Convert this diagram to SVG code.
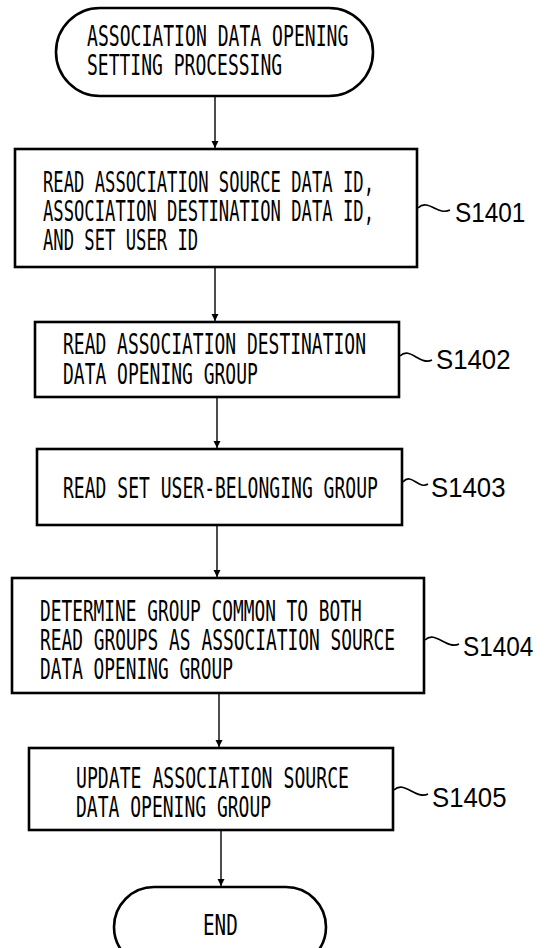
<svg xmlns="http://www.w3.org/2000/svg" width="547" height="948" viewBox="0 0 547 948">
<defs>
<marker id="arr" viewBox="0 0 10 10" refX="10" refY="5" markerWidth="7" markerHeight="8" orient="auto" markerUnits="userSpaceOnUse">
<path d="M0,0 L10,5 L0,10 Z" fill="#000"/>
</marker>
<style>
.box{fill:#fff;stroke:#000;stroke-width:2.6}
.t{font-family:"DejaVu Sans Mono","Liberation Mono",monospace;font-size:27.5px;fill:#000}
.lbl{font-family:"Liberation Sans",Arial,sans-serif;font-size:28px;fill:#000}
.c{fill:none;stroke:#000;stroke-width:1.4}
.tl{fill:none;stroke:#000;stroke-width:1.6}
</style>
</defs>
<rect width="547" height="948" fill="#fff"/>
<g id="connectors">
<line class="c" x1="215" y1="97" x2="215" y2="148" marker-end="url(#arr)"/>
<line class="c" x1="215" y1="268" x2="215" y2="321" marker-end="url(#arr)"/>
<line class="c" x1="217" y1="398" x2="217" y2="448" marker-end="url(#arr)"/>
<line class="c" x1="217" y1="526" x2="217" y2="577" marker-end="url(#arr)"/>
<line class="c" x1="219" y1="694" x2="219" y2="747" marker-end="url(#arr)"/>
<line class="c" x1="221" y1="831" x2="221" y2="886" marker-end="url(#arr)"/>
</g>
<g id="start">
<rect class="box" x="56" y="8" width="317" height="88" rx="44" ry="44"/>
<text class="t" transform="translate(87,46) scale(0.658,1)">ASSOCIATION DATA OPENING</text>
<text class="t" transform="translate(87,75) scale(0.655,1)">SETTING PROCESSING</text>
</g>
<g id="s1401">
<rect class="box" x="15" y="149" width="402" height="118"/>
<text class="t" transform="translate(43,192) scale(0.625,1)">READ ASSOCIATION SOURCE DATA ID,</text>
<text class="t" transform="translate(43,221) scale(0.625,1)">ASSOCIATION DESTINATION DATA ID,</text>
<text class="t" transform="translate(43,250) scale(0.625,1)">AND SET USER ID</text>
<path class="tl" d="M418,208 C428,198 438,216 450,210"/>
<text class="lbl" transform="translate(455,222) scale(0.87,1)">S1401</text>
</g>
<g id="s1402">
<rect class="box" x="35" y="322" width="364" height="75"/>
<text class="t" transform="translate(63,354) scale(0.654,1)">READ ASSOCIATION DESTINATION</text>
<text class="t" transform="translate(63,384) scale(0.654,1)">DATA OPENING GROUP</text>
<path class="tl" d="M400,356 C410,346 420,366 432,360"/>
<text class="lbl" transform="translate(436,369) scale(0.92,1)">S1402</text>
</g>
<g id="s1403">
<rect class="box" x="37" y="449" width="365" height="76"/>
<text class="t" transform="translate(63,498) scale(0.656,1)">READ SET USER-BELONGING GROUP</text>
<path class="tl" d="M403,482 C411,472 419,490 428,484"/>
<text class="lbl" transform="translate(431,497) scale(0.92,1)">S1403</text>
</g>
<g id="s1404">
<rect class="box" x="12" y="578" width="412" height="115"/>
<text class="t" transform="translate(40,621) scale(0.648,1)">DETERMINE GROUP COMMON TO BOTH</text>
<text class="t" transform="translate(40,650) scale(0.65,1)">READ GROUPS AS ASSOCIATION SOURCE</text>
<text class="t" transform="translate(40,679) scale(0.648,1)">DATA OPENING GROUP</text>
<path class="tl" d="M425,640 C435,630 447,650 459,644"/>
<text class="lbl" transform="translate(463,656) scale(0.87,1)">S1404</text>
</g>
<g id="s1405">
<rect class="box" x="29" y="748" width="364" height="82"/>
<text class="t" transform="translate(76,788) scale(0.66,1)">UPDATE ASSOCIATION SOURCE</text>
<text class="t" transform="translate(76,817) scale(0.655,1)">DATA OPENING GROUP</text>
<path class="tl" d="M394,790 C404,780 416,800 428,794"/>
<text class="lbl" transform="translate(432,807) scale(0.92,1)">S1405</text>
</g>
<g id="end">
<rect class="box" x="114" y="887" width="212" height="80" rx="40" ry="40"/>
<text class="t" transform="translate(203,935) scale(0.7,1)">END</text>
</g>
</svg>
